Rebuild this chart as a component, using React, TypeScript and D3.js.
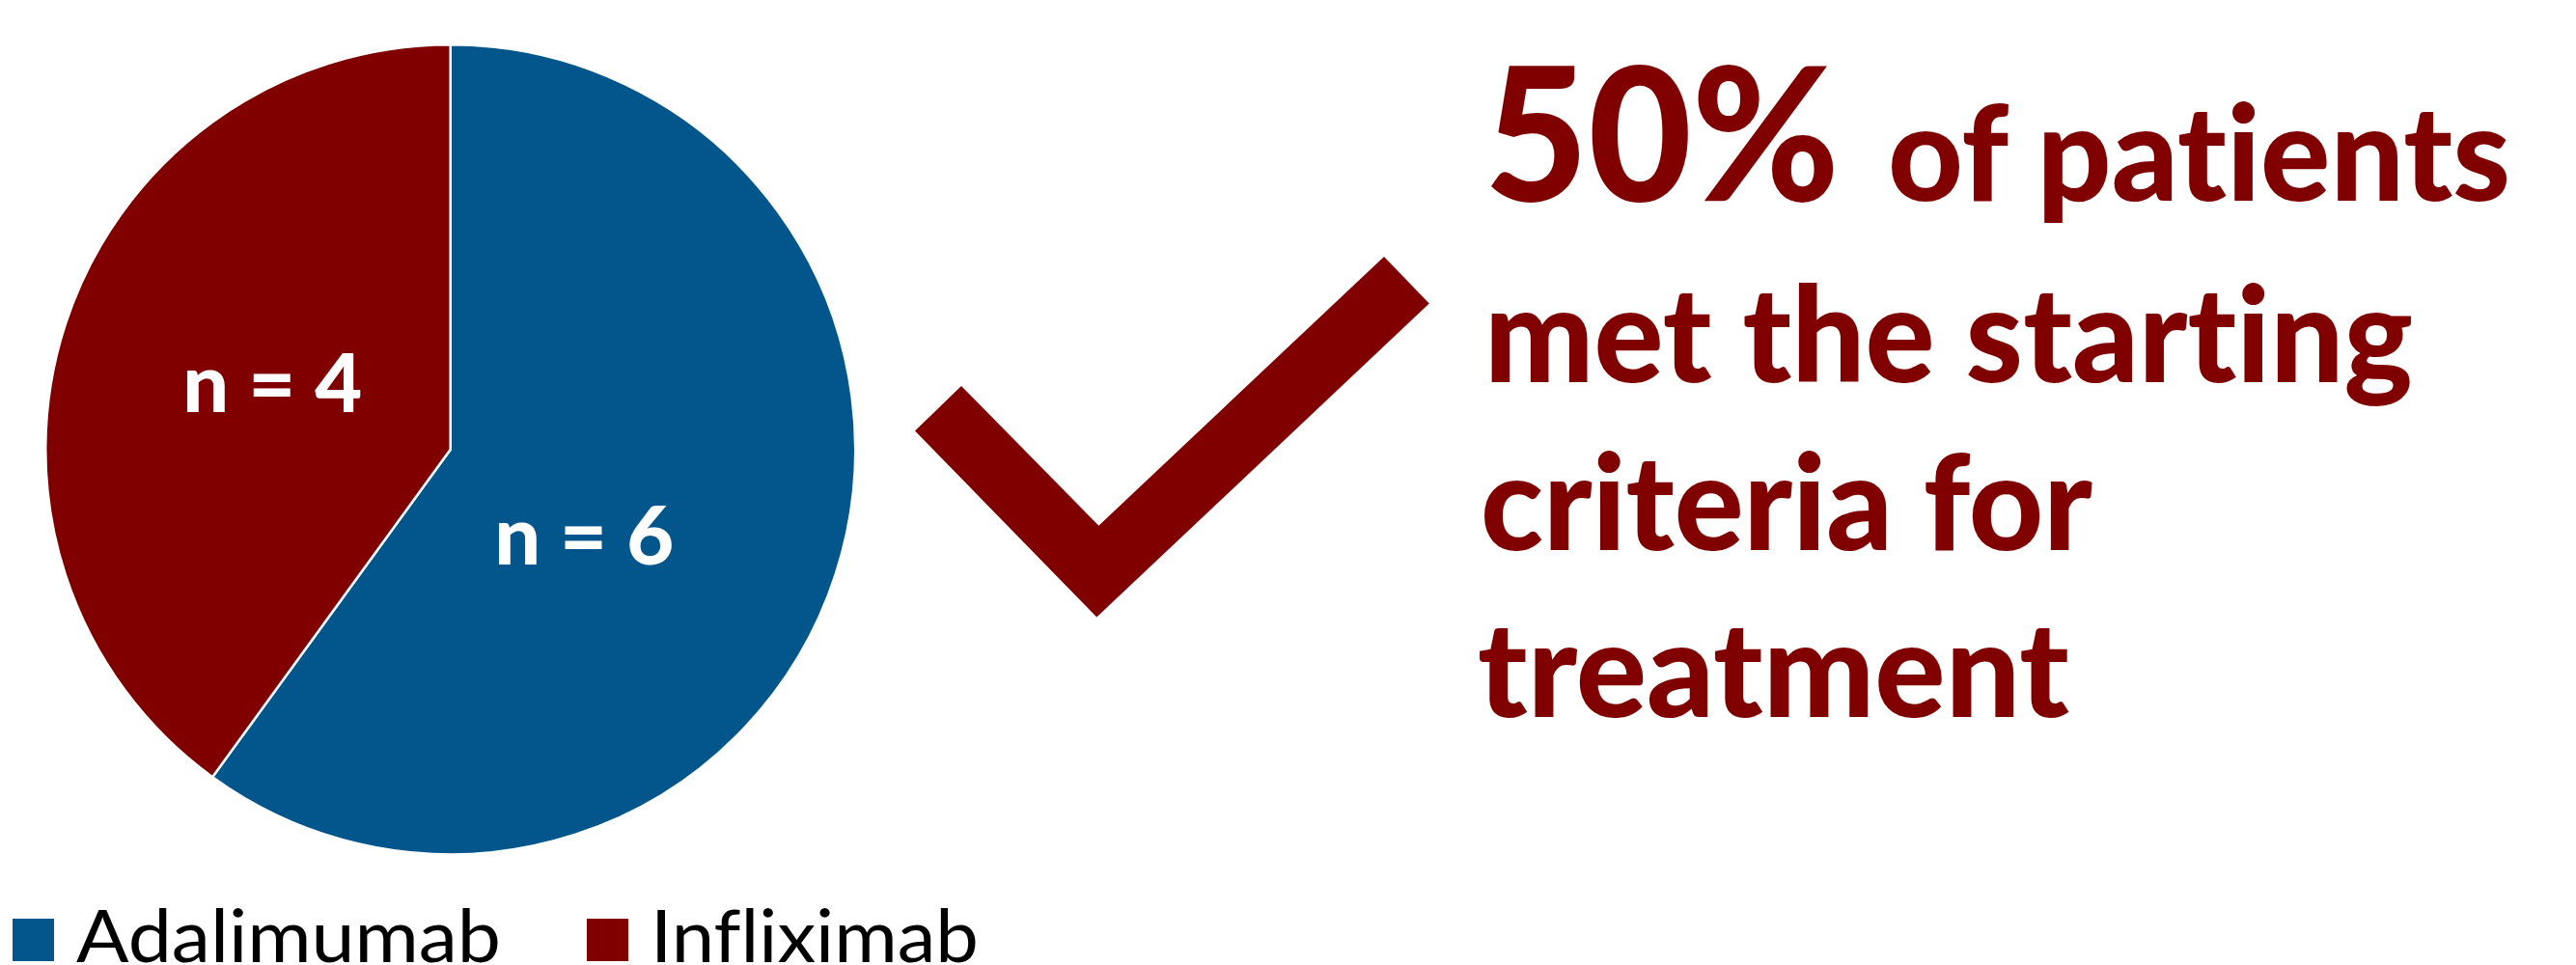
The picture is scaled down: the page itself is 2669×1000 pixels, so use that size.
import React from "react";
import * as d3 from "d3";

// ---- data ----
const categories = ["Adalimumab", "Infliximab"];
const values = [6, 4];
const sliceLabels = ["n = 6", "n = 4"];
const headlineValue = "50%";
const headlineLines = ["of patients", "met the starting", "criteria for", "treatment"];

// ---- layout / style ----
const W = 2669;
const H = 1000;
const COLORS = ["#02568B", "#800000"];
const TEXT_RED = "#800000";
const CX = 466.7;
const CY = 465.8;
const R = 419.5;
const LABEL_NUDGE: Record<string, [number, number]> = {
  Adalimumab: [-61, 24],
  Infliximab: [15, -4],
};
const FONT = "Lato, 'Open Sans', sans-serif";
const NOLIG: React.CSSProperties = {
  fontVariantLigatures: "none",
  fontFeatureSettings: '"liga" 0, "clig" 0, "dlig" 0',
};

export default function App() {
  const pieData = d3
    .pie<number>()
    .sort(null)
    .value((d) => d)(values);
  const arc = d3
    .arc<d3.PieArcDatum<number>>()
    .innerRadius(0)
    .outerRadius(R);
  const labelArc = d3
    .arc<d3.PieArcDatum<number>>()
    .innerRadius(R * 0.5)
    .outerRadius(R * 0.5);

  const color = d3.scaleOrdinal<string, string>().domain(categories).range(COLORS);

  // legend positions
  const legendX = d3.scalePoint<string>().domain(categories).range([13, 608]);

  const lineBaselines = [208, 396, 570, 743];
  const lineBox: { x: number; len: number }[] = [
    { x: 1956, len: 645 },
    { x: 1538, len: 962 },
    { x: 1534, len: 634 },
    { x: 1531, len: 613 },
  ];

  return (
    <>
      <style>{`body{margin:0;background:#fff}`}</style>
      <svg width={W} height={H} viewBox={`0 0 ${W} ${H}`} style={{ display: "block" }}>
        <rect width={W} height={H} fill="#fff" />
        <g transform={`translate(${CX},${CY})`}>
          {pieData.map((d, i) => (
            <path
              key={categories[i]}
              d={arc(d) || ""}
              fill={color(categories[i])}
              stroke="#fff"
              strokeWidth={2.5}
              strokeLinejoin="miter"
            />
          ))}
          {pieData.map((d, i) => {
            const [lx, ly] = labelArc.centroid(d);
            const [nx, ny] = LABEL_NUDGE[categories[i]];
            return (
              <text
                key={"l" + i}
                x={lx + nx}
                y={ly + ny + 30}
                textAnchor="middle"
                fontFamily={FONT}
                fontWeight={900}
                fontSize={84}
                fill="#fff"
                textLength={186}
                lengthAdjust="spacingAndGlyphs"
                style={NOLIG}
              >
                {sliceLabels[i]}
              </text>
            );
          })}
        </g>

        {/* checkmark */}
        <polygon
          points="996,400 948,446.4 1136.3,639.6 1480.8,314.6 1434,266 1138.4,544.7"
          fill={TEXT_RED}
        />

        {/* headline text */}
        <text
          x={1538}
          y={lineBaselines[0]}
          fontFamily={FONT}
          fontWeight={900}
          fontSize={193}
          fill={TEXT_RED}
          textLength={368}
          lengthAdjust="spacingAndGlyphs"
          style={NOLIG}
        >
          {headlineValue}
        </text>
        {headlineLines.map((t, i) => (
          <text
            key={t}
            x={lineBox[i].x}
            y={lineBaselines[i]}
            fontFamily={FONT}
            fontWeight={900}
            fontSize={138}
            fill={TEXT_RED}
            textLength={lineBox[i].len}
            lengthAdjust="spacingAndGlyphs"
            style={NOLIG}
          >
            {t}
          </text>
        ))}

        {/* legend */}
        {categories.map((c, i) => {
          const x = legendX(c) || 0;
          return (
            <g key={"lg" + c}>
              <rect x={x} y={952} width={43} height={44} fill={color(c)} />
              <text
                x={x + 66}
                y={997}
                fontFamily={FONT}
                fontSize={75}
                fill="#000"
                textLength={c === "Adalimumab" ? 440 : 340}
                lengthAdjust="spacingAndGlyphs"
                style={NOLIG}
              >
                {c}
              </text>
            </g>
          );
        })}
      </svg>
    </>
  );
}
